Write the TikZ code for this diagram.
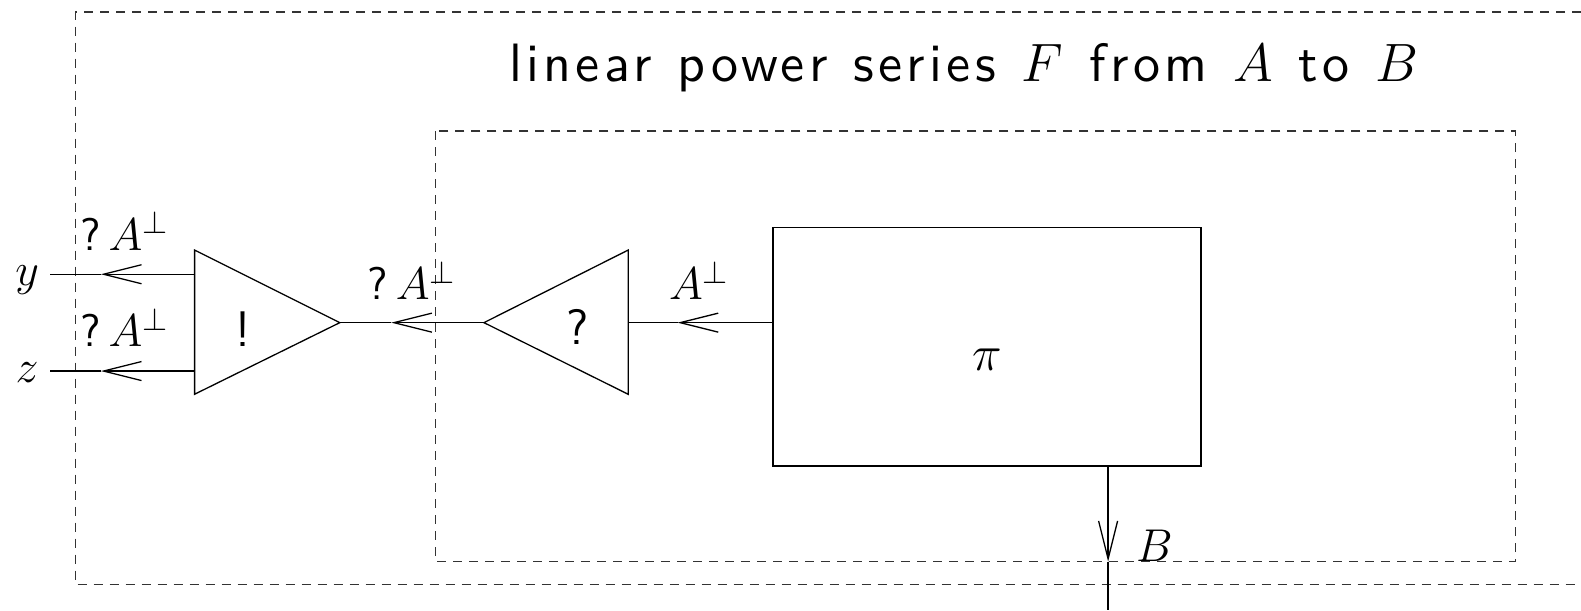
\RequirePackage{fix-cm}
\documentclass[tikz,border=0pt]{standalone}
\usepackage{fontspec}
\newfontfamily\ttlfont{lmsans10-regular.otf}[LetterSpace=8]
\usetikzlibrary{arrows.meta}
\newcommand{\qsp}{\hspace{8pt}}
\newcommand{\wsp}{\hspace{26pt}}
\begin{document}
\begin{tikzpicture}[x=1.00829pt,y=-1.00829pt, line width=1.3pt,
  frame/.style={dash pattern=on 9pt off 7pt, line width=1.3pt, draw=black!80},
  conn/.style={-{Straight Barb[length=38pt,width=19pt,line width=1.3pt]}},
  lbl/.style={font=\fontsize{46}{50}\selectfont\sffamily, inner sep=0, anchor=base},
  big/.style={font=\fontsize{50}{56}\selectfont\sffamily, inner sep=0, anchor=base},
  ttl/.style={font=\fontsize{54}{60}\selectfont\ttlfont, inner sep=0, anchor=base}]
\useasboundingbox (0,0) rectangle (1568,605);
% frames
\draw[frame] (1568,12) -- (75,12) -- (75,580) -- (1568,580);
\draw[frame] (432,130) rectangle (1503,557);
\node[ttl] (title) at (956,81.3) {linear\wsp power\wsp series\wsp $F$\wsp from\wsp $A$\wsp to\wsp $B$};
% pi box
\node[draw, minimum width=428pt, minimum height=238pt, inner sep=0] (pibox) at (979,344) {};
\node[big] (pil) at (979,367) {$\pi$};
% ! triangle
\coordinate (b1) at (193,248); \coordinate (b2) at (193,391); \coordinate (btip) at (337,320);
\draw (b1) -- (btip) -- (b2) -- cycle;
\node[big] (bang) at (241,344) {!};
% ? triangle
\coordinate (q1) at (623,248); \coordinate (q2) at (623,391); \coordinate (qtip) at (480,320);
\draw (q1) -- (qtip) -- (q2) -- cycle;
\node[big] (quest) at (573,342) {?};
% connectors
\coordinate (qR) at (623,320);
\coordinate (a1) at (672,320);
\draw[conn] (pibox.west |- qtip) -- (a1); \draw (a1) -- (qR);
\coordinate (a2) at (388,320);
\draw[conn] (qtip) -- (a2); \draw (a2) -- (btip);
\coordinate (ys) at (193,272); \coordinate (ya) at (100,272); \coordinate (ye) at (50,272);
\draw[conn] (ys) -- (ya); \draw (ya) -- (ye);
\coordinate (zs) at (193,368); \coordinate (za) at (100,368); \coordinate (ze) at (50,368);
\draw[conn] (zs) -- (za); \draw (za) -- (ze);
\coordinate (bs) at (1099,463); \coordinate (ba) at (1099,557); \coordinate (be) at (1099,605);
\draw[conn] (bs) -- (ba); \draw (ba) -- (be);
% labels
\node[lbl] (ly) at (27,283.6) {$y$};
\node[lbl] (lz) at (27,379.8) {$z$};
\node[lbl] (l1) at (123,248) {?\qsp$A^{\perp}$};
\node[lbl] (l2) at (123,344) {?\qsp$A^{\perp}$};
\node[lbl] (l3) at (408,297.5) {?\qsp$A^{\perp}$};
\node[lbl] (l4) at (693,297.5) {$A^{\perp}$};
\node[lbl] (lB) at (1145,557) {$B$};
\end{tikzpicture}
\end{document}
